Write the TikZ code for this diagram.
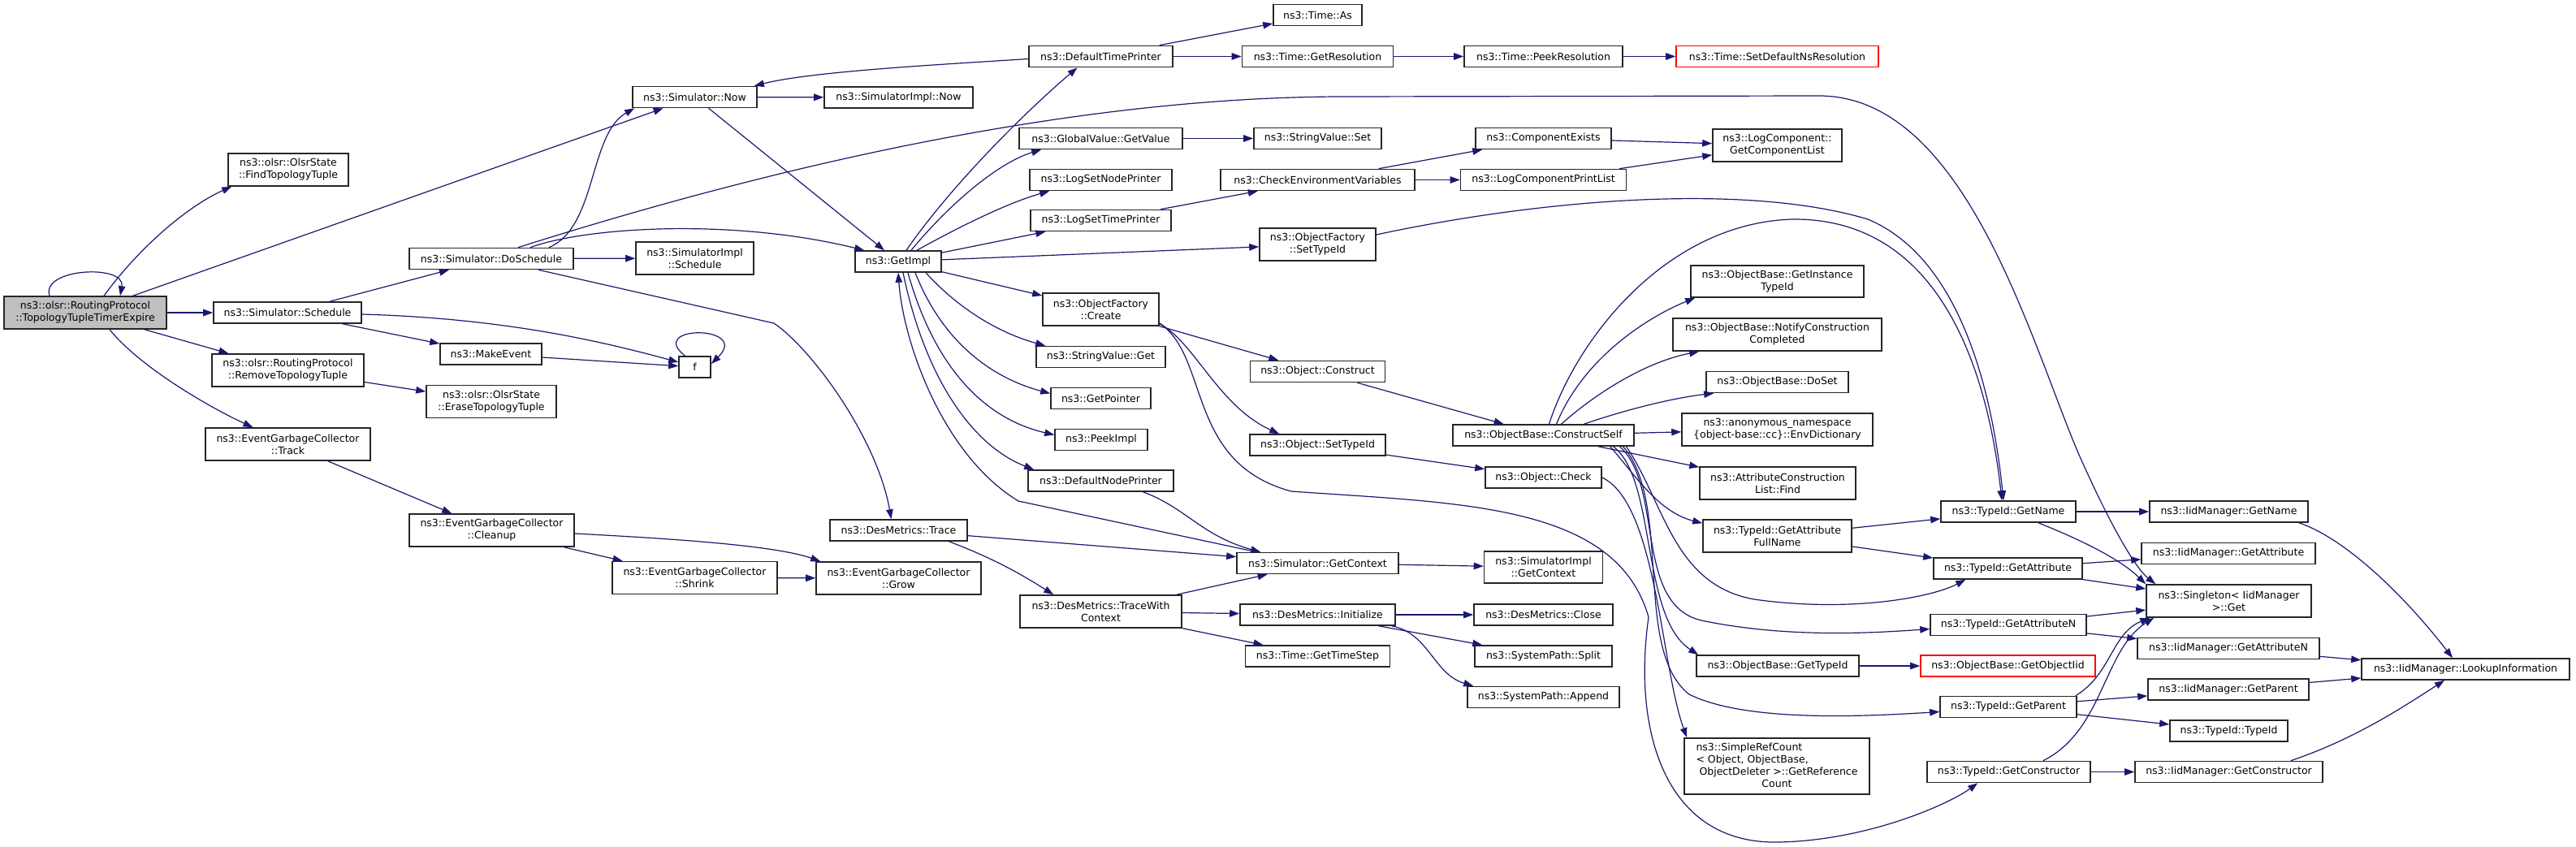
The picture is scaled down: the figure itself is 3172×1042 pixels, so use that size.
\documentclass[tikz,border=0pt]{standalone}
\usepackage{fontspec}
\setmainfont{DejaVu Sans}
\usetikzlibrary{arrows.meta,calc}
\definecolor{edgecol}{HTML}{191970}
\definecolor{mainfill}{HTML}{BFBFBF}
\definecolor{redbox}{HTML}{FF0000}
\newcommand\nfnt{\fontsize{12.5pt}{15pt}\selectfont}
\begin{document}
\begin{tikzpicture}[x=1pt,y=-1pt,
  nbox/.style={draw=black!85, line width=1.6pt, fill=white, inner sep=0pt, minimum height=26pt, align=center, font=\nfnt},
  bw/.style={minimum width=#1pt},
  bh/.style={minimum height=#1pt},
  redb/.style={draw=redbox},
  cedge/.style={draw=edgecol, line width=1.2pt, -{Triangle[length=12pt,width=8.5pt]}}]
\fill[white] (0,0) rectangle (3172,1042);
\useasboundingbox (0,0) rectangle (3172,1042);
% rank 0-1
\node[nbox,bw=200,bh=40,fill=mainfill] (main) at (105,385) {ns3::olsr::RoutingProtocol\\::TopologyTupleTimerExpire};
\node[nbox,bw=148,bh=40] (findtt) at (355,209) {ns3::olsr::OlsrState\\::FindTopologyTuple};
\node[nbox,bw=182] (sched) at (354,385) {ns3::Simulator::Schedule};
\node[nbox,bw=187,bh=40] (remove) at (354.5,456) {ns3::olsr::RoutingProtocol\\::RemoveTopologyTuple};
\node[nbox,bw=203,bh=40] (track) at (354.5,547) {ns3::EventGarbageCollector\\::Track};
% rank 2
\node[nbox,bw=202] (dosched) at (605,318.5) {ns3::Simulator::DoSchedule};
\node[nbox,bw=125] (makeevent) at (604.5,436) {ns3::MakeEvent};
\node[nbox,bw=160,bh=40] (erase) at (605,494.5) {ns3::olsr::OlsrState\\::EraseTopologyTuple};
\node[nbox,bw=203,bh=40] (cleanup) at (605.5,653) {ns3::EventGarbageCollector\\::Cleanup};
% rank 3
\node[nbox,bw=153] (now) at (855.5,119.5) {ns3::Simulator::Now};
\node[nbox,bw=145,bh=40] (simimplsched) at (855.5,318) {ns3::SimulatorImpl\\::Schedule};
\node[nbox,bw=39] (f) at (855.5,452) {f};
\node[nbox,bw=203,bh=40] (shrink) at (855.5,711.5) {ns3::EventGarbageCollector\\::Shrink};
% rank 4
\node[nbox,bw=183] (simimplnow) at (1106.5,120) {ns3::SimulatorImpl::Now};
\node[nbox,bw=106] (getimpl) at (1106,322) {ns3::GetImpl};
\node[nbox,bw=169] (trace) at (1106.5,653) {ns3::DesMetrics::Trace};
\node[nbox,bw=203,bh=40] (grow) at (1106.5,712) {ns3::EventGarbageCollector\\::Grow};
% rank 5
\node[nbox,bw=177] (dtp) at (1355.5,69.5) {ns3::DefaultTimePrinter};
\node[nbox,bw=201] (gvget) at (1355.5,170.5) {ns3::GlobalValue::GetValue};
\node[nbox,bw=175] (lsnp) at (1355.5,221.5) {ns3::LogSetNodePrinter};
\node[nbox,bw=173] (lstp) at (1355.5,271.5) {ns3::LogSetTimePrinter};
\node[nbox,bw=143,bh=40] (create) at (1355.5,381) {ns3::ObjectFactory\\::Create};
\node[nbox,bw=159] (svget) at (1355.5,439.5) {ns3::StringValue::Get};
\node[nbox,bw=123] (getpointer) at (1355.5,490.5) {ns3::GetPointer};
\node[nbox,bw=114] (peekimpl) at (1356,541.5) {ns3::PeekImpl};
\node[nbox,bw=179] (dnp) at (1355.5,592) {ns3::DefaultNodePrinter};
\node[nbox,bw=199,bh=40] (twc) at (1355.5,753) {ns3::DesMetrics::TraceWith\\Context};
% rank 6
\node[nbox,bw=109] (timeas) at (1622.5,18.5) {ns3::Time::As};
\node[nbox,bw=186] (getres) at (1622.5,69.5) {ns3::Time::GetResolution};
\node[nbox,bw=157] (svset) at (1622.5,170.5) {ns3::StringValue::Set};
\node[nbox,bw=239] (cev) at (1622.5,221.5) {ns3::CheckEnvironmentVariables};
\node[nbox,bw=143,bh=40] (oftypeid) at (1622.5,301) {ns3::ObjectFactory\\::SetTypeId};
\node[nbox,bw=166] (construct) at (1622.5,457.5) {ns3::Object::Construct};
\node[nbox,bw=167] (osettypeid) at (1622.5,548) {ns3::Object::SetTypeId};
\node[nbox,bw=199] (getcontext) at (1622.5,693.5) {ns3::Simulator::GetContext};
\node[nbox,bw=191] (initialize) at (1622.5,757) {ns3::DesMetrics::Initialize};
\node[nbox,bw=178] (timestep) at (1622.5,808) {ns3::Time::GetTimeStep};
% rank 7
\node[nbox,bw=195] (peekres) at (1900.5,69.5) {ns3::Time::PeekResolution};
\node[nbox,bw=167] (compexists) at (1900.5,170.5) {ns3::ComponentExists};
\node[nbox,bw=204] (lcpl) at (1900.5,221.5) {ns3::LogComponentPrintList};
\node[nbox,bw=223] (constructself) at (1900.5,536) {ns3::ObjectBase::ConstructSelf};
\node[nbox,bw=143] (check) at (1900.5,588) {ns3::Object::Check};
\node[nbox,bw=146,bh=39] (siget) at (1900.5,698.5) {ns3::SimulatorImpl\\::GetContext};
\node[nbox,bw=171] (close) at (1900.5,757) {ns3::DesMetrics::Close};
\node[nbox,bw=169] (split) at (1900.5,808) {ns3::SystemPath::Split};
\node[nbox,bw=187] (append) at (1900.5,858.5) {ns3::SystemPath::Append};
% rank 8
\node[nbox,redb,bw=249] (setdefns) at (2188.5,69.5) {ns3::Time::SetDefaultNsResolution};
\node[nbox,bw=159,bh=40] (getcomplist) at (2188.5,179) {ns3::LogComponent::\\GetComponentList};
\node[nbox,bw=213,bh=39] (instancetid) at (2188.5,346.5) {ns3::ObjectBase::GetInstance\\TypeId};
\node[nbox,bw=257,bh=40] (notify) at (2188.5,412) {ns3::ObjectBase::NotifyConstruction\\Completed};
\node[nbox,bw=175] (doset) at (2188.5,470.5) {ns3::ObjectBase::DoSet};
\node[nbox,bw=235,bh=40] (envdict) at (2188.5,529) {ns3::anonymous\_namespace\\\{object-base::cc\}::EnvDictionary};
\node[nbox,bw=192,bh=40] (findattr) at (2189,595) {ns3::AttributeConstruction\\List::Find};
\node[nbox,bw=183,bh=40] (fullname) at (2188.5,660) {ns3::TypeId::GetAttribute\\FullName};
\node[nbox,bw=200] (getobjtypeid) at (2189,820) {ns3::ObjectBase::GetTypeId};
\node[nbox,bw=228,bh=69] (refcount) at (2188,943.5) {\begin{tabular}{@{}l@{}}ns3::SimpleRefCount\\< Object, ObjectBase,\\\ ObjectDeleter >::GetReference\\\multicolumn{1}{@{}c@{}}{Count}\end{tabular}};
% rank 9
\node[nbox,bw=166] (tidname) at (2473,630) {ns3::TypeId::GetName};
\node[nbox,bw=183] (tidattr) at (2472.5,700) {ns3::TypeId::GetAttribute};
\node[nbox,bw=192] (tidattrn) at (2473,769.5) {ns3::TypeId::GetAttributeN};
\node[nbox,redb,bw=215] (objiid) at (2472.5,820) {ns3::ObjectBase::GetObjectIid};
\node[nbox,bw=168] (tidparent) at (2473,870.5) {ns3::TypeId::GetParent};
\node[nbox,bw=201] (tidctor) at (2473.5,950.5) {ns3::TypeId::GetConstructor};
% rank 10
\node[nbox,bw=195] (iidname) at (2744.5,630) {ns3::IidManager::GetName};
\node[nbox,bw=214] (iidattr) at (2744,681.5) {ns3::IidManager::GetAttribute};
\node[nbox,bw=203,bh=40] (singleton) at (2744.5,740) {ns3::Singleton< IidManager\\ >::Get};
\node[nbox,bw=224] (iidattrn) at (2744,798.5) {ns3::IidManager::GetAttributeN};
\node[nbox,bw=198] (iidparent) at (2744,849) {ns3::IidManager::GetParent};
\node[nbox,bw=145] (tidtid) at (2744.5,900) {ns3::TypeId::TypeId};
\node[nbox,bw=231] (iidctor) at (2744.5,950.5) {ns3::IidManager::GetConstructor};
% rank 11
\node[nbox,bw=256] (lookup) at (3036,824) {ns3::IidManager::LookupInformation};

% ---- edges ----
% main
\draw[cedge] ($(main.north)+(-44,0)$) .. controls (50,330) and (155,325) .. ($(main.north)+(43,0)$);
\draw[cedge] ($(main.north)+(23,0)$) .. controls (175,300) and (235,252) .. ($(findtt.south west)+(5,0)$);
\draw[cedge] (main) -- (now);
\draw[cedge] (main) -- (sched);
\draw[cedge] (main) -- (remove);
\draw[cedge] ($(main.south)+(30,0)$) .. controls (175,455) and (265,505) .. ($(track.north)+(-43,0)$);
% sched
\draw[cedge] (sched) -- (dosched);
\draw[cedge] (sched) -- (makeevent);
\draw[cedge] ($(sched.east)+(0,2)$) .. controls (620,392) and (740,420) .. ($(f.west)+(0,-6)$);
\draw[cedge] (makeevent) -- (f);
\draw[cedge] ($(f.north)+(-12,0)$) .. controls (795,400) and (925,400) .. ($(f.east)+(0,-4)$);
% olsr
\draw[cedge] (remove) -- (erase);
\draw[cedge] (track) -- (cleanup);
\draw[cedge] (cleanup) -- (shrink);
\draw[cedge] ($(cleanup.east)+(0,4)$) .. controls (800,662) and (950,670) .. ($(grow.north west)+(6,0)$);
\draw[cedge] (shrink) -- (grow);
% dosched
\draw[cedge] (dosched) -- (simimplsched);
\draw[cedge] ($(dosched.north)+(71,0)$) .. controls (735,280) and (725,165) .. ($(now.south west)+(3,0)$);
\draw[cedge] ($(dosched.north)+(48,0)$) .. controls (720,280) and (900,268) .. ($(getimpl.north west)+(12,0)$);
\draw[cedge] ($(dosched.north)+(33,0)$) .. controls (1000,190) and (1350,120) .. (1650,119) -- (2240,118) .. controls (2420,118) and (2500,420) .. (2560,560) .. controls (2600,650) and (2630,700) .. ($(singleton.north west)+(12,0)$);
\draw[cedge] ($(dosched.south)+(58,0)$) -- (953,398) .. controls (1000,430) and (1080,540) .. ($(trace.north)+(-9,0)$);
% now
\draw[cedge] (now) -- (simimplnow);
\draw[cedge] (now) -- (getimpl);
% default time printer
\draw[cedge] ($(dtp.west)+(0,3)$) .. controls (1150,80) and (1000,88) .. ($(now.north east)+(-4,0)$);
\draw[cedge] (dtp) -- (timeas);
\draw[cedge] (dtp) -- (getres);
\draw[cedge] (getres) -- (peekres);
\draw[cedge] (peekres) -- (setdefns);
% getimpl
\draw[cedge] ($(getimpl.north)+(10,0)$) .. controls (1170,230) and (1260,140) .. ($(dtp.south)+(-29,0)$);
\draw[cedge] ($(getimpl.north)+(16,0)$) .. controls (1170,250) and (1230,200) .. ($(gvget.south west)+(28,0)$);
\draw[cedge] ($(getimpl.north)+(23,0)$) .. controls (1180,280) and (1240,250) .. ($(lsnp.south west)+(25,0)$);
\draw[cedge] (getimpl) -- (lstp);
\draw[cedge] (getimpl) -- (oftypeid);
\draw[cedge] (getimpl) -- (create);
\draw[cedge] ($(getimpl.south)+(34,0)$) .. controls (1180,380) and (1230,410) .. ($(svget.north west)+(12,0)$);
\draw[cedge] ($(getimpl.south)+(21,0)$) .. controls (1160,420) and (1220,465) .. ($(getpointer.west)+(0,-6)$);
\draw[cedge] ($(getimpl.south)+(12,0)$) .. controls (1150,450) and (1210,515) .. ($(peekimpl.west)+(0,-6)$);
\draw[cedge] ($(getimpl.south)+(6,0)$) .. controls (1140,470) and (1200,550) .. ($(dnp.north west)+(8,0)$);
\draw[cedge] ($(getcontext.north west)+(25,0)$) -- (1254,617) .. controls (1160,560) and (1112,420) .. (getimpl.south);
% node printer, trace
\draw[cedge] ($(dnp.south)+(52,0)$) .. controls (1460,625) and (1480,660) .. ($(getcontext.north west)+(30,0)$);
\draw[cedge] (trace) -- (getcontext);
\draw[cedge] ($(trace.south)+(62,0)$) .. controls (1230,690) and (1265,712) .. ($(twc.north west)+(42,0)$);
\draw[cedge] (twc) -- (getcontext);
\draw[cedge] (twc) -- (initialize);
\draw[cedge] (twc) -- (timestep);
\draw[cedge] (getcontext) -- (siget);
\draw[cedge] (initialize) -- (close);
\draw[cedge] (initialize) -- (split);
\draw[cedge] ($(initialize.south east)+(-5,0)$) .. controls (1760,780) and (1765,830) .. ($(append.north west)+(8,0)$);
% log
\draw[cedge] (gvget) -- (svset);
\draw[cedge] (lstp) -- (cev);
\draw[cedge] (cev) -- (compexists);
\draw[cedge] (cev) -- (lcpl);
\draw[cedge] (compexists) -- (getcomplist);
\draw[cedge] (lcpl) -- (getcomplist);
% object factory
\draw[cedge] ($(oftypeid.east)+(0,-12)$) .. controls (1900,245) and (2150,225) .. (2300,270) .. controls (2420,320) and (2455,500) .. ($(tidname.north)+(-6,0)$);
\draw[cedge] (create) -- (construct);
\draw[cedge] ($(create.south east)+(0,-3)$) .. controls (1470,420) and (1500,500) .. ($(osettypeid.north west)+(37,0)$);
\draw[cedge] ($(create.south east)+(0,-4)$) .. controls (1490,440) and (1460,570) .. (1590,605) .. controls (1800,620) and (1990,620) .. (2030,760) .. controls (2010,900) and (2050,1040) .. (2190,1037) .. controls (2300,1035) and (2400,990) .. ($(tidctor.south west)+(63,0)$);
\draw[cedge] (construct) -- (constructself);
\draw[cedge] (osettypeid) -- (check);
\draw[cedge] (check.east) .. controls (2040,620) and (2045,820) .. ($(refcount.north west)+(4,0)$);
% construct self
\draw[cedge] ($(constructself.north)+(7,0)$) .. controls (1940,420) and (2050,275) .. (2207,270) .. controls (2400,268) and (2450,480) .. ($(tidname.north)+(-8,0)$);
\draw[cedge] ($(constructself.north)+(16,0)$) .. controls (1950,440) and (2030,390) .. ($(instancetid.south west)+(6,0)$);
\draw[cedge] ($(constructself.north)+(22,0)$) .. controls (1970,480) and (2030,445) .. ($(notify.south west)+(33,0)$);
\draw[cedge] ($(constructself.north)+(50,0)$) .. controls (2000,505) and (2060,490) .. ($(doset.south west)+(10,0)$);
\draw[cedge] (constructself) -- (envdict);
\draw[cedge] (constructself) -- (findattr);
\draw[cedge] ($(constructself.south)+(82,0)$) .. controls (2010,580) and (2040,630) .. ($(fullname.north west)+(0,5)$);
\draw[cedge] ($(constructself.south)+(86,0)$) .. controls (2040,590) and (2020,760) .. ($(getobjtypeid.north west)+(3,0)$);
\draw[cedge] ($(constructself.south)+(94,0)$) .. controls (2050,600) and (2010,750) .. (2100,765) .. controls (2200,785) and (2300,780) .. ($(tidattrn.west)+(0,5)$);
\draw[cedge] ($(constructself.south)+(98,0)$) .. controls (2060,620) and (2010,800) .. (2080,855) .. controls (2150,890) and (2300,882) .. ($(tidparent.west)+(0,6)$);
\draw[cedge] ($(constructself.south)+(102,0)$) .. controls (2050,620) and (2060,720) .. (2160,738) .. controls (2280,755) and (2380,735) .. ($(tidattr.south west)+(40,0)$);
% typeid
\draw[cedge] (fullname) -- (tidname);
\draw[cedge] (fullname) -- (tidattr);
\draw[cedge] (getobjtypeid) -- (objiid);
\draw[cedge] (tidname) -- (iidname);
\draw[cedge] ($(tidname.south)+(37,0)$) .. controls (2570,668) and (2612,690) .. (singleton.north west);
\draw[cedge] (tidattr) -- (iidattr);
\draw[cedge] (tidattr) -- (singleton);
\draw[cedge] (tidattrn) -- (singleton);
\draw[cedge] (tidattrn) -- (iidattrn);
\draw[cedge] ($(tidparent.north east)+(-2,0)$) .. controls (2600,830) and (2600,780) .. ($(singleton.south west)+(5,0)$);
\draw[cedge] (tidparent) -- (iidparent);
\draw[cedge] (tidparent) -- (tidtid);
\draw[cedge] ($(tidctor.north east)+(-59,0)$) .. controls (2590,900) and (2590,800) .. ($(singleton.south west)+(10,0)$);
\draw[cedge] (tidctor) -- (iidctor);
% iid manager
\draw[cedge] ($(iidname.south east)+(-12,0)$) .. controls (2880,660) and (2950,720) .. ($(lookup.north)+(-16,0)$);
\draw[cedge] (iidattrn) -- (lookup);
\draw[cedge] (iidparent) -- (lookup);
\draw[cedge] ($(iidctor.north east)+(-40,0)$) .. controls (2900,910) and (2960,870) .. ($(lookup.south)+(-26,0)$);
\end{tikzpicture}
\end{document}
